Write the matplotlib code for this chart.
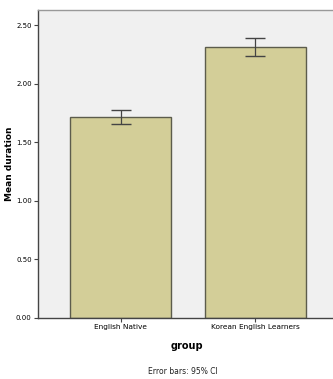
import matplotlib
matplotlib.use("Agg")
import matplotlib.pyplot as plt
from matplotlib import font_manager

groups = ["English Native", "Korean English Learners"]
means = [1.715, 2.318]
ci_low = [1.658, 2.238]
ci_high = [1.780, 2.395]
yticks = [0.0, 0.5, 1.0, 1.5, 2.0, 2.5]
ytick_labels = ["0.00", "0.50", "1.00", "1.50", "2.00", "2.50"]

names = {f.name for f in font_manager.fontManager.ttflist}
narrow = "Liberation Sans Narrow" if "Liberation Sans Narrow" in names else "DejaVu Sans"

fig = plt.figure(figsize=(3.33, 3.79), dpi=100)
ax_w = 1 - 38/333 + 0.01
ax = fig.add_axes([38/333, 61/379, ax_w, 308/379])
ax.set_facecolor("#f0f0f0")

x = list(range(len(groups)))
ax.bar(x, means, width=0.75, color="#d3ce98", edgecolor="#5c5c4c", linewidth=1.0, zorder=2)
yerr = [[m - l for m, l in zip(means, ci_low)], [h - m for m, h in zip(means, ci_high)]]
ax.errorbar(x, means, yerr=yerr, fmt="none", ecolor="#444444", elinewidth=0.9,
            capsize=7, capthick=1.0, zorder=3)

ax.set_xlim(-0.613, 1.60)
ax.set_ylim(0, 2.63)
ax.set_yticks(yticks)
ax.set_yticklabels(ytick_labels, fontsize=5, family=narrow)
ax.set_xticks(x)
ax.set_xticklabels(groups, fontsize=5.3, family=narrow)
ax.tick_params(axis="both", length=3, width=0.8, color="#444444", pad=1.5)

for side in ["left", "bottom"]:
    ax.spines[side].set_color("#444444")
    ax.spines[side].set_linewidth(1.0)
ax.spines["top"].set_color("#999999")
ax.spines["top"].set_linewidth(1.0)
ax.spines["right"].set_visible(False)

ax.set_ylabel("Mean duration", fontsize=6.5, fontweight="bold")
ax.yaxis.set_label_coords(-24 / (ax_w * 333), 0.5)
ax.set_xlabel("group", fontsize=7, fontweight="bold", labelpad=8)

fig.text(183/333, 1 - 372/379, "Error bars: 95% CI", fontsize=5.5, family=narrow,
         ha="center", va="center", color="#222222")

fig.savefig("out.png", dpi=100, facecolor="white")
